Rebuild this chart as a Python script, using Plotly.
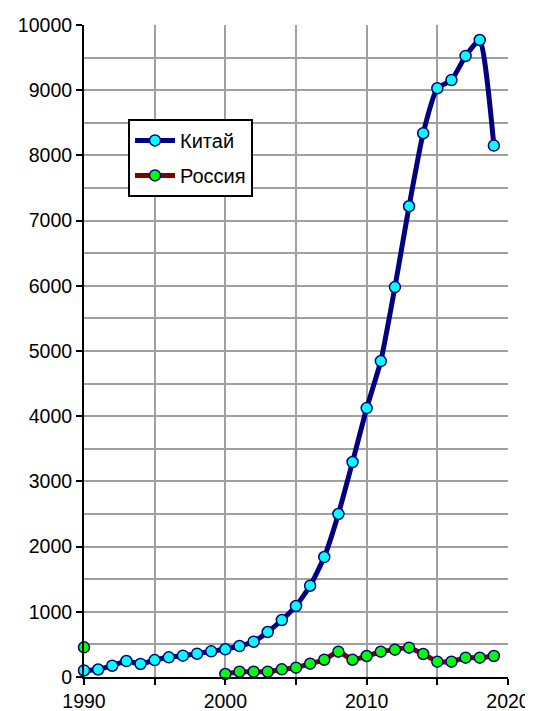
import plotly.graph_objects as go

years_china = list(range(1990, 2020))
china = [100, 115, 173, 245, 200, 260, 302, 327, 357, 394,
         425, 475, 541, 690, 874, 1089, 1400, 1840, 2500, 3297,
         4125, 4845, 5980, 7220, 8340, 9030, 9155, 9525, 9770, 8150]

years_russia = [1990, 1991, 1992, 1993, 1994, 1995, 1996, 1997, 1998, 1999,
                2000, 2001, 2002, 2003, 2004, 2005, 2006, 2007, 2008, 2009,
                2010, 2011, 2012, 2013, 2014, 2015, 2016, 2017, 2018, 2019]
russia = [455, None, None, None, None, None, None, None, None, None,
          46, 81, 81, 81, 118, 143, 204, 265, 388, 265,
          322, 388, 419, 450, 353, 235, 235, 296, 296, 322]

FONT = "Arial, Liberation Sans, sans-serif"

fig = go.Figure()
fig.add_trace(go.Scatter(
    x=years_china, y=china, name="Китай", mode="lines+markers",
    legendgroup="a",
    line=dict(color="#000080", width=5, shape="spline", smoothing=0.5),
    marker=dict(color="#00FFFF", size=11, line=dict(color="#000080", width=1.5)),
    cliponaxis=False,
))
fig.add_trace(go.Scatter(
    x=years_russia, y=russia, name="Россия", mode="lines+markers",
    legendgroup="b",
    line=dict(color="#800000", width=5, shape="spline", smoothing=0.5),
    marker=dict(color="#00FF00", size=11, line=dict(color="#000080", width=1.5)),
    cliponaxis=False,
))

# page body has an 8px default margin, so the figure is 8px smaller
fig.update_layout(
    width=525, height=703,
    margin=dict(l=76, r=25, t=17, b=34),
    paper_bgcolor="white", plot_bgcolor="white",
    font=dict(family=FONT, size=19.5, color="black"),
    showlegend=True,
    legend=dict(
        x=0.1038, y=0.856, xanchor="left", yanchor="top",
        bgcolor="white", bordercolor="black", borderwidth=2,
        font=dict(family=FONT, size=20, color="black"),
        itemwidth=40, traceorder="grouped", tracegroupgap=6,
    ),
)
fig.update_xaxes(
    range=[1990, 2020], dtick=10, tick0=1990, automargin=False,
    showgrid=True, gridcolor="#A0A0A0", gridwidth=2,
    showline=True, linecolor="black", linewidth=2,
    ticks="outside", ticklen=6, tickcolor="black", tickwidth=2,
    minor=dict(dtick=5, tick0=1990, showgrid=True, gridcolor="#A0A0A0", gridwidth=2,
               ticks="outside", ticklen=6, tickcolor="black", tickwidth=2),
    zeroline=False, tickfont=dict(size=19.5),
)
fig.update_yaxes(
    range=[0, 10000], dtick=1000, tick0=0, automargin=False,
    showgrid=True, gridcolor="#A0A0A0", gridwidth=2,
    showline=True, linecolor="black", linewidth=2,
    ticks="outside", ticklen=6, tickcolor="black", tickwidth=2,
    minor=dict(dtick=500, showgrid=True, gridcolor="#A0A0A0", gridwidth=2),
    zeroline=False, tickfont=dict(size=19.5), tickformat="d",
)
fig.write_html("out.html")
